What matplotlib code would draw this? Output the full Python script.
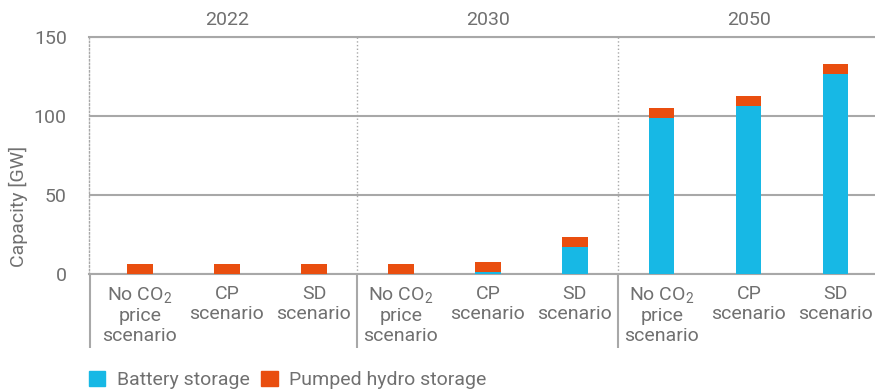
import matplotlib.pyplot as plt
from matplotlib.patches import Patch

years = ['2022', '2030', '2050']
scenarios = ['No CO$_2$\nprice\nscenario', 'CP\nscenario', 'SD\nscenario']
battery = [0, 0, 0, 0, 1.3, 17.1, 98.7, 106.3, 126.5]
pumped = [6.3, 6.3, 6.3, 6.3, 6.3, 6.3, 6.2, 6.1, 6.2]

blue = '#17B8E5'
orange = '#E94E0F'
grey = '#707070'
line = '#A8A8A8'

plt.rcParams['font.family'] = ['Roboto', 'DejaVu Sans']
plt.rcParams['mathtext.default'] = 'regular'

fig = plt.figure(figsize=(8.75, 3.91), dpi=100)
ax = fig.add_axes([89 / 875, 1 - 274 / 391, 1 - 89 / 875, 237 / 391])

x = list(range(len(battery)))
ax.bar(x, battery, width=0.29, color=blue, zorder=3)
ax.bar(x, pumped, width=0.29, bottom=battery, color=orange, zorder=3)

left = -0.586
ax.set_xlim(left, 8.45)
ax.set_ylim(0, 150)
ax.set_yticks([0, 50, 100, 150])
ax.yaxis.grid(True, color=line, linewidth=1.5, zorder=1)
ax.set_axisbelow(True)

ax.spines['right'].set_visible(False)
ax.spines['top'].set_color(line)
ax.spines['top'].set_linewidth(1.5)
ax.spines['bottom'].set_color(line)
ax.spines['bottom'].set_linewidth(1.5)
ax.spines['left'].set_color(line)
ax.spines['left'].set_linestyle(':')
ax.spines['left'].set_linewidth(1)

for xd in [2.5, 5.5]:
    ax.axvline(xd, color=line, linestyle=':', linewidth=1, zorder=1)

fs = 14
ax.set_xticks(x)
ax.set_xticklabels(scenarios * 3, fontsize=fs, color=grey, linespacing=1.15)
ax.tick_params(axis='x', which='major', length=0, pad=8)
ax.set_xticks([left + 0.01, 2.5, 5.5], minor=True)
ax.tick_params(axis='x', which='minor', length=53, width=1.5, color=line)
ax.tick_params(axis='y', length=0, labelsize=fs, labelcolor=grey, pad=16)

for i, yr in enumerate(years):
    ax.text(1 + 3 * i, 155, yr, ha='center', va='bottom', fontsize=fs, color=grey)

ax.set_ylabel('Capacity [GW]', fontsize=fs, color=grey)
ax.yaxis.set_label_coords(-0.078, 0.283)

handles = [Patch(color=blue, label='Battery storage'),
           Patch(color=orange, label='Pumped hydro storage')]
fig.legend(handles=handles, loc='lower left', bbox_to_anchor=(71 / 875, -0.04),
           ncol=2, frameon=False, fontsize=fs, labelcolor=grey,
           handlelength=0.85, handleheight=0.85, handletextpad=0.6, columnspacing=0.6)

fig.savefig('out.png', dpi=100)
